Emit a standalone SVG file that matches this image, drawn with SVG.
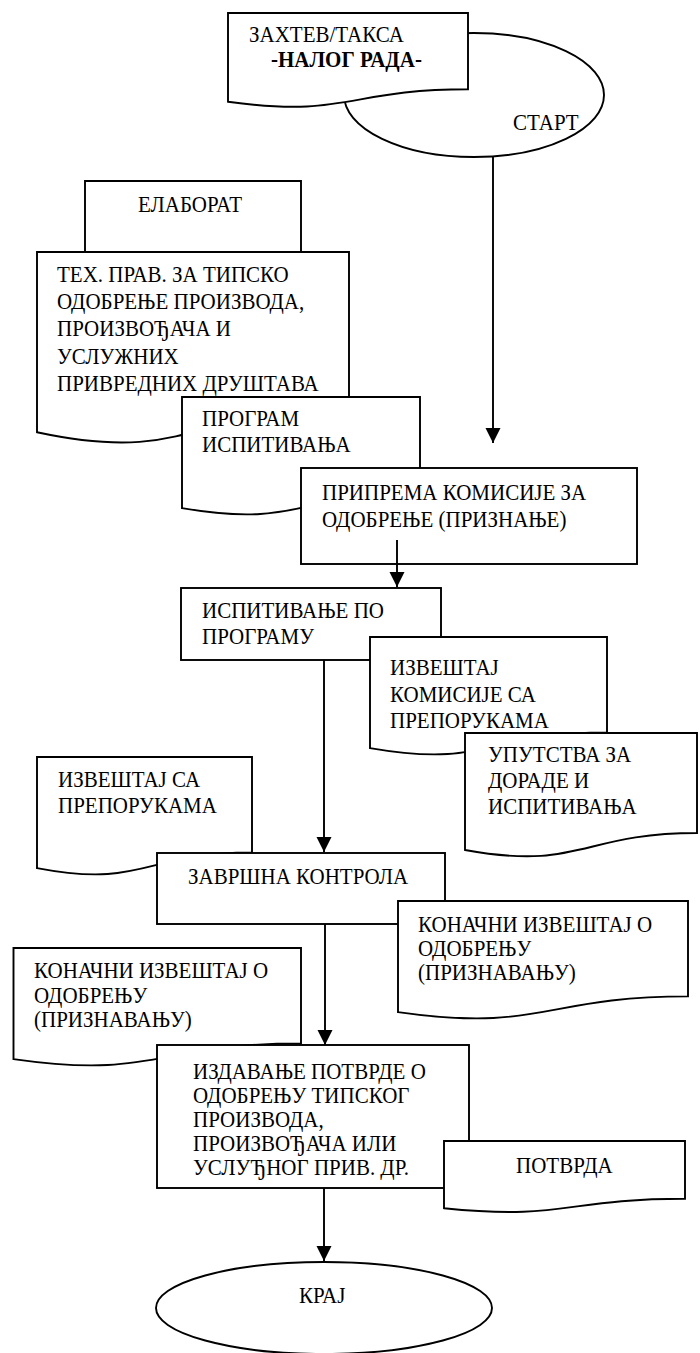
<svg xmlns="http://www.w3.org/2000/svg" width="700" height="1353" viewBox="0 0 700 1353">
<style>
.s{fill:#fff;stroke:#000;stroke-width:1.9}
.t{font-family:"Liberation Serif","Times New Roman",serif;font-size:21px;fill:#000}
.b{font-weight:bold}
.c{fill:none;stroke:#000;stroke-width:1.9}
</style>
<defs>
<marker id="ah" markerUnits="userSpaceOnUse" markerWidth="16" markerHeight="16" refX="15" refY="7.5" orient="auto">
<path d="M0,0 L15,7.5 L0,15 Z" fill="#000"/>
</marker>
</defs>
<g id="start">
<ellipse class="s" cx="474" cy="95" rx="130" ry="62"/>
<text class="t" transform="translate(513 130) scale(1 1.12)">СТАРТ</text>
</g>
<g id="zahtev">
<path class="s" d="M228 13 H468 V89.2 C348 89.2 348 118.2 228 101.7 Z"/>
<text class="t" transform="translate(249 42) scale(1 1.12)">ЗАХТЕВ/ТАКСА</text>
<text class="t b" transform="translate(271 67) scale(1 1.12)">-НАЛОГ РАДА-</text>
</g>
<g id="elaborat">
<path class="s" d="M85 181 H301 V257.2 C193 257.2 193 286.2 85 269.7 Z"/>
<text class="t" transform="translate(138 212) scale(1 1.12)">ЕЛАБОРАТ</text>
</g>
<g id="tehprav">
<path class="s" d="M37 252 H349 V406.8 C193 406.8 193 465.7 37 432.3 Z"/>
<text class="t" transform="translate(57 282) scale(1 1.12)"><tspan x="0" y="0">ТЕХ. ПРАВ. ЗА ТИПСКО</tspan><tspan x="0" y="24.3">ОДОБРЕЊЕ ПРОИЗВОДА,</tspan><tspan x="0" y="48.6">ПРОИЗВОЂАЧА И</tspan><tspan x="0" y="72.9">УСЛУЖНИХ</tspan><tspan x="0" y="97.2">ПРИВРЕДНИХ ДРУШТАВА</tspan></text>
</g>
<g id="program">
<path class="s" d="M182 397 H420 V492.4 C301 492.4 301 528.7 182 508.1 Z"/>
<text class="t" transform="translate(202 426) scale(1 1.12)"><tspan x="0" y="0">ПРОГРАМ</tspan><tspan x="0" y="23.2">ИСПИТИВАЊА</tspan></text>
</g>
<g id="priprema">
<rect class="s" x="301" y="468" width="336" height="96"/>
<text class="t" transform="translate(322 500) scale(1 1.12)"><tspan x="0" y="0">ПРИПРЕМА КОМИСИЈЕ ЗА</tspan><tspan x="0" y="24.1">ОДОБРЕЊЕ (ПРИЗНАЊЕ)</tspan></text>
</g>
<g id="ispitivanje">
<rect class="s" x="181" y="588" width="260" height="72"/>
<text class="t" transform="translate(202 618) scale(1 1.12)"><tspan x="0" y="0">ИСПИТИВАЊЕ ПО</tspan><tspan x="0" y="23.2">ПРОГРАМУ</tspan></text>
</g>
<g id="izvestajkomisije">
<path class="s" d="M370 637 H607 V732.4 C488.5 732.4 488.5 768.7 370 748.1 Z"/>
<text class="t" transform="translate(390 675) scale(1 1.12)"><tspan x="0" y="0">ИЗВЕШТАЈ</tspan><tspan x="0" y="23.7">КОМИСИЈЕ СА</tspan><tspan x="0" y="47.4">ПРЕПОРУКАМА</tspan></text>
</g>
<g id="uputstva">
<path class="s" d="M465 733 H697 V833 C581 833 581 871 465 850 Z"/>
<text class="t" transform="translate(488 762) scale(1 1.12)"><tspan x="0" y="0">УПУТСТВА ЗА</tspan><tspan x="0" y="23.4">ДОРАДЕ И</tspan><tspan x="0" y="46.8">ИСПИТИВАЊА</tspan></text>
</g>
<g id="izvestajsa">
<path class="s" d="M37 757 H252 V852.4 C144.5 852.4 144.5 888.7 37 868.1 Z"/>
<text class="t" transform="translate(58 787) scale(1 1.12)"><tspan x="0" y="0">ИЗВЕШТАЈ СА</tspan><tspan x="0" y="23.2">ПРЕПОРУКАМА</tspan></text>
</g>
<g id="zavrsna">
<rect class="s" x="157" y="853" width="288" height="71"/>
<text class="t" transform="translate(188 884) scale(1 1.12)">ЗАВРШНА КОНТРОЛА</text>
</g>
<g id="konacni-desno">
<path class="s" d="M398 901 H688 V996.4 C543 996.4 543 1032.7 398 1012.1 Z"/>
<text class="t" transform="translate(418 932) scale(1 1.12)"><tspan x="0" y="0">КОНАЧНИ ИЗВЕШТАЈ О</tspan><tspan x="0" y="21.4">ОДОБРЕЊУ</tspan><tspan x="0" y="42.8">(ПРИЗНАВАЊУ)</tspan></text>
</g>
<g id="konacni-levo">
<path class="s" d="M13.5 948 H301 V1043.4 C157 1043.4 157 1079.7 13.5 1059.1 Z"/>
<text class="t" transform="translate(34 978) scale(1 1.12)"><tspan x="0" y="0">КОНАЧНИ ИЗВЕШТАЈ О</tspan><tspan x="0" y="21.9">ОДОБРЕЊУ</tspan><tspan x="0" y="43.8">(ПРИЗНАВАЊУ)</tspan></text>
</g>
<g id="izdavanje">
<rect class="s" x="157" y="1045" width="312" height="143"/>
<text class="t" transform="translate(193 1079) scale(1 1.12)"><tspan x="0" y="0">ИЗДАВАЊЕ ПОТВРДЕ О</tspan><tspan x="0" y="21.4">ОДОБРЕЊУ ТИПСКОГ</tspan><tspan x="0" y="42.8">ПРОИЗВОДА,</tspan><tspan x="0" y="64.2">ПРОИЗВОЂАЧА ИЛИ</tspan><tspan x="0" y="85.6">УСЛУЂНОГ ПРИВ. ДР.</tspan></text>
</g>
<g id="potvrda">
<path class="s" d="M444 1141 H685 V1198.7 C564.5 1198.7 564.5 1220.7 444 1208.2 Z"/>
<text class="t" transform="translate(516 1173) scale(1 1.12)">ПОТВРДА</text>
</g>
<g id="kraj">
<ellipse class="s" cx="324" cy="1308" rx="168" ry="46"/>
<text class="t" transform="translate(299 1303) scale(1 1.12)">КРАЈ</text>
</g>
<g id="connectors">
<line class="c" x1="493" y1="157" x2="493" y2="443" marker-end="url(#ah)"/>
<line class="c" x1="397" y1="540" x2="397" y2="587" marker-end="url(#ah)"/>
<line class="c" x1="324" y1="660" x2="324" y2="852" marker-end="url(#ah)"/>
<line class="c" x1="325" y1="924" x2="325" y2="1045" marker-end="url(#ah)"/>
<line class="c" x1="324" y1="1188" x2="324" y2="1261" marker-end="url(#ah)"/>
</g>
</svg>
